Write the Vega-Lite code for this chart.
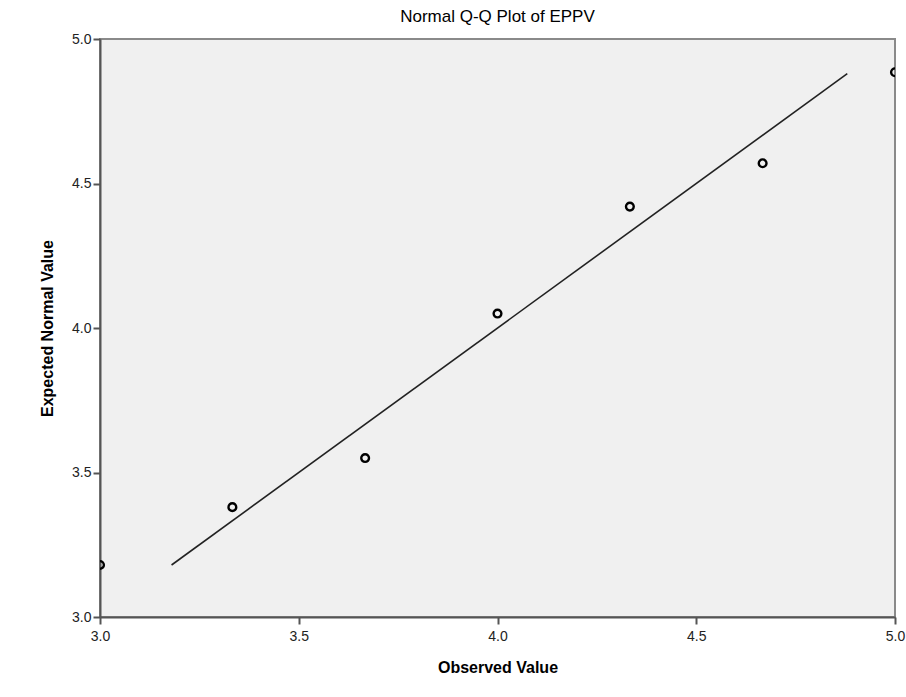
{
  "$schema": "https://vega.github.io/schema/vega-lite/v6.json",
  "width": 795,
  "height": 578,
  "autosize": {"type": "none"},
  "padding": {"left": 100, "top": 39, "right": 11, "bottom": 80},
  "background": "white",
  "title": {"text": "Normal Q-Q Plot of EPPV", "font": "Liberation Sans", "fontSize": 17, "fontWeight": "normal", "color": "#000", "offset": 6, "anchor": "middle"},
  "config": {
    "view": {"fill": "#f0f0f0", "stroke": "#8a8a8a", "strokeWidth": 2},
    "axis": {"domainColor": "#555", "domainWidth": 2, "tickColor": "#555", "tickWidth": 2, "tickSize": 7, "grid": false, "labelFlush": false, "labelFont": "Liberation Sans", "labelColor": "#222", "titleFont": "Liberation Sans", "titleFontSize": 16, "titleFontWeight": "bold", "titleColor": "#000"}
  },
  "layer": [
    {
      "data": {"values": [
        {"observed": 3.0, "expected": 3.18},
        {"observed": 3.333, "expected": 3.38},
        {"observed": 3.667, "expected": 3.55},
        {"observed": 4.0, "expected": 4.05},
        {"observed": 4.333, "expected": 4.42},
        {"observed": 4.667, "expected": 4.57},
        {"observed": 5.0, "expected": 4.885}
      ]},
      "mark": {"type": "point", "shape": "circle", "filled": false, "stroke": "#000", "strokeWidth": 2.4, "size": 60, "opacity": 1, "clip": true},
      "encoding": {
        "x": {"field": "observed", "type": "quantitative", "scale": {"domain": [3, 5], "nice": false, "zero": false}, "axis": {"title": "Observed Value", "values": [3.0, 3.5, 4.0, 4.5, 5.0], "format": ".1f", "labelFontSize": 14, "titlePadding": 16, "labelPadding": 5}},
        "y": {"field": "expected", "type": "quantitative", "scale": {"domain": [3, 5], "nice": false, "zero": false}, "axis": {"title": "Expected Normal Value", "values": [3.0, 3.5, 4.0, 4.5, 5.0], "format": ".1f", "labelFontSize": 14, "titlePadding": 16, "labelPadding": 2}}
      }
    },
    {
      "data": {"values": [
        {"observed": 3.18, "expected": 3.18},
        {"observed": 4.88, "expected": 4.88}
      ]},
      "mark": {"type": "line", "color": "#222", "strokeWidth": 1.6},
      "encoding": {
        "x": {"field": "observed", "type": "quantitative"},
        "y": {"field": "expected", "type": "quantitative"}
      }
    }
  ]
}
